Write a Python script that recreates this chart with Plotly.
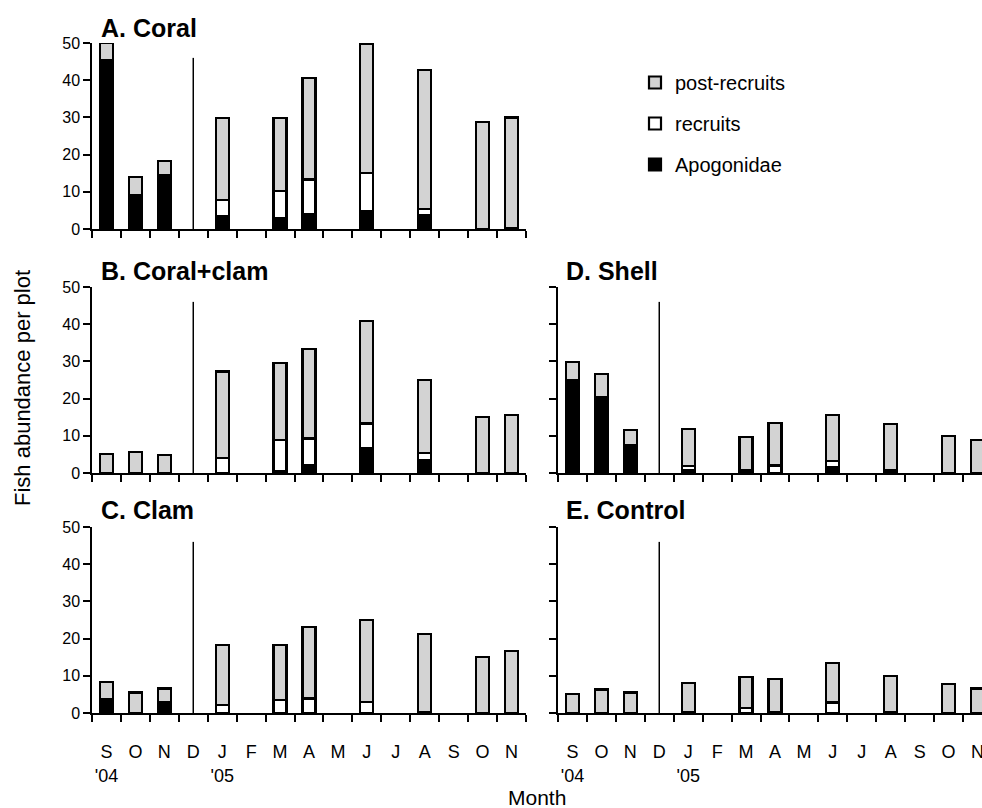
import plotly.graph_objects as go

# ---------------- data ----------------
month_labels = ["S<br>'04", "O", "N", "D", "J<br>'05", "F", "M", "A", "M", "J", "J", "A", "S", "O", "N"]
sample_month_index = [0, 1, 2, 4, 6, 7, 9, 11, 13, 14]
treatment_month_index = 3
treatment_line_top = 46
y_ticks = [0, 10, 20, 30, 40, 50]

series_names = ["Apogonidae", "recruits", "post-recruits"]

coral_apogonidae = [45.3, 9.2, 14.4, 3.4, 2.8, 3.9, 4.8, 3.7, 0, 0.3]
coral_recruits = [0, 0, 0, 4.5, 7.4, 9.4, 10.3, 1.6, 0, 0]
coral_post = [4.7, 4.8, 3.8, 22.0, 19.7, 27.3, 34.7, 37.5, 28.8, 29.7]

coralclam_apogonidae = [0, 0, 0, 0, 0.4, 2.2, 6.7, 3.6, 0, 0]
coralclam_recruits = [0, 0, 0, 4.0, 8.4, 7.1, 6.6, 1.7, 0, 0]
coralclam_post = [5.1, 5.6, 4.8, 23.3, 20.8, 24.0, 27.6, 19.7, 15.0, 15.7]

clam_apogonidae = [3.7, 0, 2.9, 0, 0, 0, 0, 0, 0, 0]
clam_recruits = [0, 0, 0, 2.2, 3.4, 3.9, 2.9, 0.2, 0, 0]
clam_post = [4.6, 5.5, 3.7, 16.0, 14.8, 19.3, 22.1, 21.0, 15.1, 16.7]

shell_apogonidae = [24.9, 20.3, 7.5, 0.9, 0.5, 0, 1.7, 0.7, 0, 0]
shell_recruits = [0, 0, 0, 0.9, 0.3, 2.0, 1.6, 0, 0, 0]
shell_post = [5.0, 6.4, 4.0, 10.0, 8.9, 11.4, 12.3, 12.5, 9.9, 8.8]

control_apogonidae = [0, 0, 0, 0.2, 0, 0.2, 0, 0.2, 0, 0]
control_recruits = [0, 0, 0, 0, 1.4, 0, 2.8, 0, 0, 0]
control_post = [5.2, 6.3, 5.5, 7.8, 8.3, 8.9, 10.7, 9.7, 7.8, 6.6]

panel_titles = ["A. Coral", "B. Coral+clam", "C. Clam", "D. Shell", "E. Control"]
panel_data = [
    (coral_apogonidae, coral_recruits, coral_post),
    (coralclam_apogonidae, coralclam_recruits, coralclam_post),
    (clam_apogonidae, clam_recruits, clam_post),
    (shell_apogonidae, shell_recruits, shell_post),
    (control_apogonidae, control_recruits, control_post),
]

# ---------------- styling / layout ----------------
W, H = 982, 808
FONT = "Liberation Sans, Arial, Helvetica, sans-serif"
colors = {"Apogonidae": "black", "recruits": "white", "post-recruits": "#d3d3d3"}
ranks = {"post-recruits": 1, "recruits": 2, "Apogonidae": 3}

def px_x(v):
    return v / W

def px_y(v):
    return 1 - v / H

left_dom = [px_x(92), px_x(526)]
right_dom = [px_x(558), 1.0]
top_dom = [px_y(229), px_y(43)]
mid_dom = [px_y(473), px_y(287)]
bot_dom = [px_y(713), px_y(527)]

unit = (526 - 92) / 15.0
right_range = [-0.5, -0.5 + (982 - 558) / unit]

# panel: (xdomain, ydomain, xrange, show x labels, show y labels, title pos)
panel_layout = [
    (left_dom, top_dom, [-0.5, 14.5], False, True, (99, 28)),
    (left_dom, mid_dom, [-0.5, 14.5], False, True, (99, 271)),
    (left_dom, bot_dom, [-0.5, 14.5], True, True, (99, 510)),
    (right_dom, mid_dom, right_range, False, False, (564, 271)),
    (right_dom, bot_dom, right_range, True, False, (564, 510)),
]

fig = go.Figure()
shapes = []
annotations = []
layout_axes = {}

x_positions = sample_month_index

for i, (title, data, pl) in enumerate(zip(panel_titles, panel_data, panel_layout)):
    n = "" if i == 0 else str(i + 1)
    xref, yref = "x" + n, "y" + n
    xdom, ydom, xr, showx, showy, tpos = pl
    for name, vals in zip(series_names, data):
        fig.add_trace(go.Bar(
            x=x_positions, y=vals, name=name, xaxis=xref, yaxis=yref,
            width=0.45,
            marker=dict(color=colors[name], line=dict(color="black", width=2.2)),
            showlegend=(i == 0), legendgroup=name, legendrank=ranks[name],
            hoverinfo="skip",
        ))
    layout_axes["xaxis" + n] = dict(
        domain=xdom, range=xr, anchor=yref, showline=True, linecolor="black", linewidth=1.5,
        tickmode="array", tickvals=list(range(15)), ticktext=month_labels,
        ticks="", showticklabels=showx, ticklabelstandoff=22, ticklabeloverflow="allow",
        automargin=False,
        tickfont=dict(size=18, color="black", family=FONT),
        minor=dict(tickmode="array", tickvals=[k - 0.5 for k in range(16)], ticks="outside",
                   ticklen=7, tickwidth=1.5, tickcolor="black", showgrid=False),
        showgrid=False, zeroline=False,
    )
    layout_axes["yaxis" + n] = dict(
        domain=ydom, range=[0, 50], anchor=xref, showline=True, linecolor="black", linewidth=1.5,
        tickmode="array", tickvals=y_ticks, ticks="outside", ticklen=7, tickwidth=1.5,
        tickcolor="black", showticklabels=showy, automargin=False,
        tickfont=dict(size=16, color="black", family=FONT),
        showgrid=False, zeroline=False,
    )
    shapes.append(dict(type="line", xref=xref, yref=yref,
                       x0=treatment_month_index, x1=treatment_month_index,
                       y0=0, y1=treatment_line_top,
                       line=dict(color="black", width=1.5)))
    annotations.append(dict(text="<b>" + title + "</b>", xref="paper", yref="paper",
                            x=px_x(tpos[0]), y=px_y(tpos[1]), xanchor="left", yanchor="middle",
                            showarrow=False, font=dict(size=25, color="black", family=FONT)))

annotations.append(dict(text="Fish abundance per plot", xref="paper", yref="paper",
                        x=px_x(22), y=px_y(388), xanchor="center", yanchor="middle",
                        textangle=-90, showarrow=False,
                        font=dict(size=22, color="black", family=FONT)))
annotations.append(dict(text="Month", xref="paper", yref="paper",
                        x=px_x(537), y=px_y(797), xanchor="center", yanchor="middle",
                        showarrow=False, font=dict(size=21, color="black", family=FONT)))

fig.update_layout(
    width=W, height=H, margin=dict(l=0, r=0, t=0, b=0, autoexpand=False),
    paper_bgcolor="white", plot_bgcolor="white",
    barmode="stack",
    shapes=shapes, annotations=annotations,
    legend=dict(x=px_x(635), y=px_y(63), xanchor="left", yanchor="top",
                traceorder="grouped", tracegroupgap=12,
                font=dict(size=20, color="black", family=FONT),
                bgcolor="rgba(0,0,0,0)"),
    font=dict(family=FONT, color="black"),
    **layout_axes,
)

fig.write_html(
    "out.html",
    config={"displayModeBar": False},
    post_script="document.body.style.margin='0';document.body.style.overflow='hidden';",
)
